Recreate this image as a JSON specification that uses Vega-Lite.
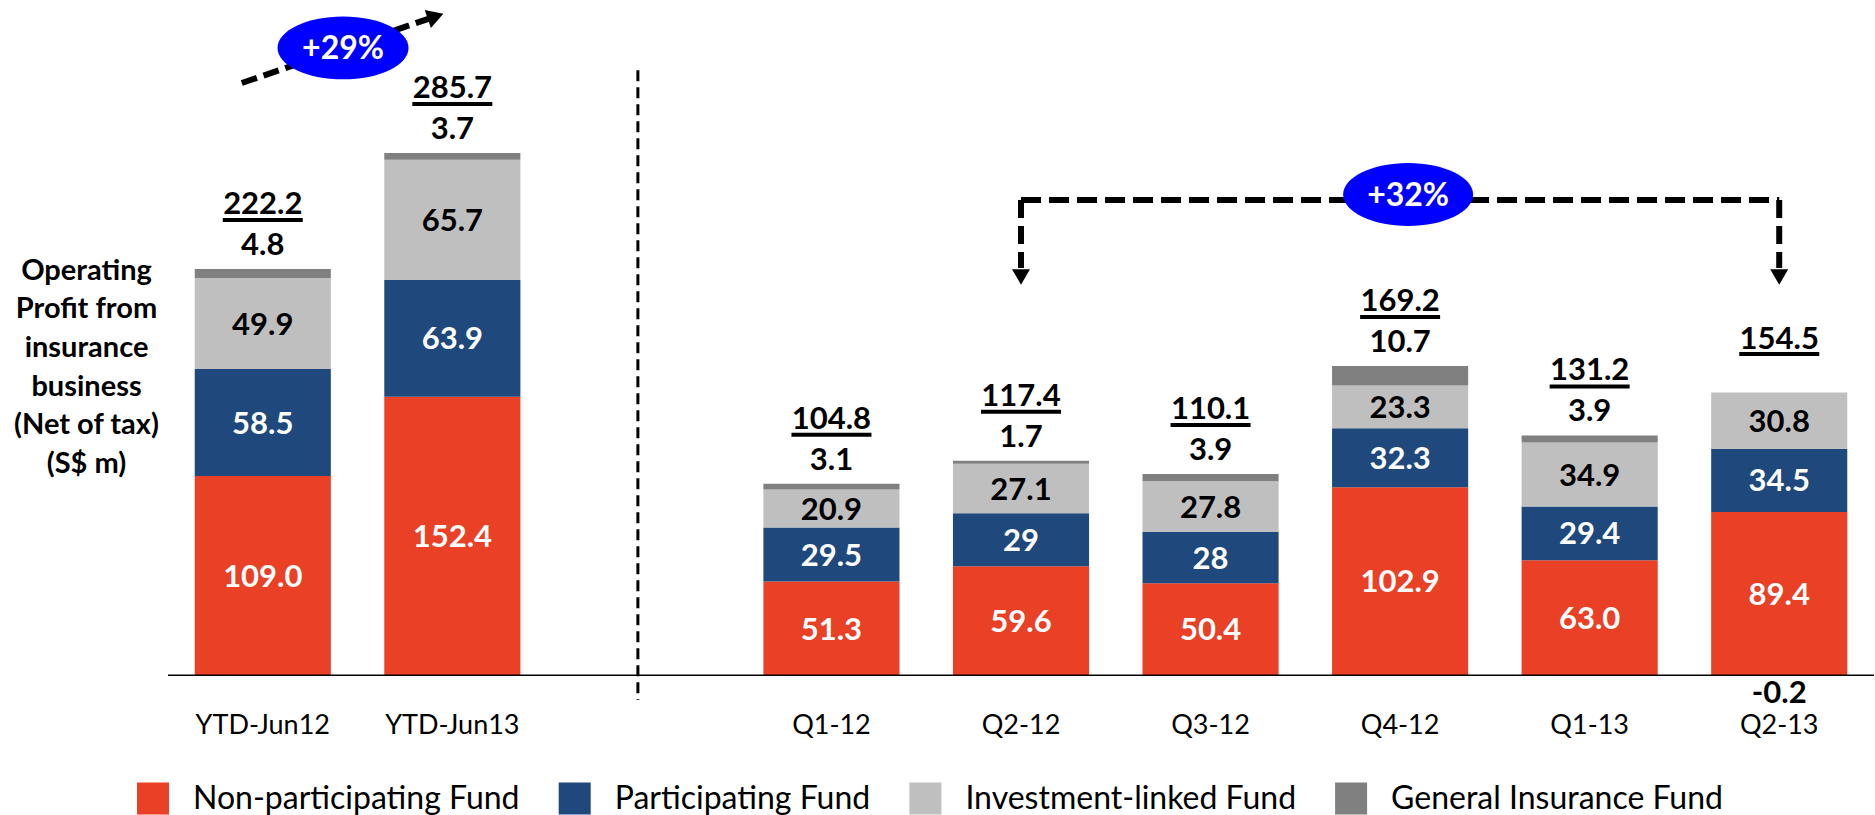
{
  "$schema": "https://vega.github.io/schema/vega-lite/v6.json",
  "width": 1706,
  "height": 700,
  "autosize": {"type": "none"},
  "padding": {"left": 168, "top": 0, "right": 1, "bottom": 115},
  "background": "white",
  "config": {"view": {"stroke": null}, "font": "Lato"},
  "datasets": {
    "funds": [
      {"fund": "Non-participating Fund", "stackOrder": 1},
      {"fund": "Participating Fund", "stackOrder": 2},
      {"fund": "Investment-linked Fund", "stackOrder": 3},
      {"fund": "General Insurance Fund", "stackOrder": 4}
    ],
    "profit": [
      {"period": "YTD-Jun12", "fund": "Non-participating Fund", "value": 109.0, "label": "109.0"},
      {"period": "YTD-Jun12", "fund": "Participating Fund", "value": 58.5, "label": "58.5"},
      {"period": "YTD-Jun12", "fund": "Investment-linked Fund", "value": 49.9, "label": "49.9"},
      {"period": "YTD-Jun12", "fund": "General Insurance Fund", "value": 4.8, "label": "4.8"},
      {"period": "YTD-Jun13", "fund": "Non-participating Fund", "value": 152.4, "label": "152.4"},
      {"period": "YTD-Jun13", "fund": "Participating Fund", "value": 63.9, "label": "63.9"},
      {"period": "YTD-Jun13", "fund": "Investment-linked Fund", "value": 65.7, "label": "65.7"},
      {"period": "YTD-Jun13", "fund": "General Insurance Fund", "value": 3.7, "label": "3.7"},
      {"period": "Q1-12", "fund": "Non-participating Fund", "value": 51.3, "label": "51.3"},
      {"period": "Q1-12", "fund": "Participating Fund", "value": 29.5, "label": "29.5"},
      {"period": "Q1-12", "fund": "Investment-linked Fund", "value": 20.9, "label": "20.9"},
      {"period": "Q1-12", "fund": "General Insurance Fund", "value": 3.1, "label": "3.1"},
      {"period": "Q2-12", "fund": "Non-participating Fund", "value": 59.6, "label": "59.6"},
      {"period": "Q2-12", "fund": "Participating Fund", "value": 29, "label": "29"},
      {"period": "Q2-12", "fund": "Investment-linked Fund", "value": 27.1, "label": "27.1"},
      {"period": "Q2-12", "fund": "General Insurance Fund", "value": 1.7, "label": "1.7"},
      {"period": "Q3-12", "fund": "Non-participating Fund", "value": 50.4, "label": "50.4"},
      {"period": "Q3-12", "fund": "Participating Fund", "value": 28, "label": "28"},
      {"period": "Q3-12", "fund": "Investment-linked Fund", "value": 27.8, "label": "27.8"},
      {"period": "Q3-12", "fund": "General Insurance Fund", "value": 3.9, "label": "3.9"},
      {"period": "Q4-12", "fund": "Non-participating Fund", "value": 102.9, "label": "102.9"},
      {"period": "Q4-12", "fund": "Participating Fund", "value": 32.3, "label": "32.3"},
      {"period": "Q4-12", "fund": "Investment-linked Fund", "value": 23.3, "label": "23.3"},
      {"period": "Q4-12", "fund": "General Insurance Fund", "value": 10.7, "label": "10.7"},
      {"period": "Q1-13", "fund": "Non-participating Fund", "value": 63.0, "label": "63.0"},
      {"period": "Q1-13", "fund": "Participating Fund", "value": 29.4, "label": "29.4"},
      {"period": "Q1-13", "fund": "Investment-linked Fund", "value": 34.9, "label": "34.9"},
      {"period": "Q1-13", "fund": "General Insurance Fund", "value": 3.9, "label": "3.9"},
      {"period": "Q2-13", "fund": "Non-participating Fund", "value": 89.4, "label": "89.4"},
      {"period": "Q2-13", "fund": "Participating Fund", "value": 34.5, "label": "34.5"},
      {"period": "Q2-13", "fund": "Investment-linked Fund", "value": 30.8, "label": "30.8"},
      {"period": "Q2-13", "fund": "General Insurance Fund", "value": -0.2, "label": "-0.2"}
    ]
  },
  "data": {"name": "profit"},
  "transform": [
    {"lookup": "fund", "from": {"data": {"name": "funds"}, "key": "fund", "fields": ["stackOrder"]}}
  ],
  "layer": [
    {
      "mark": {"type": "bar"},
      "encoding": {
        "x": {
          "field": "period", "type": "nominal", "sort": null,
          "scale": {"domain": ["YTD-Jun12", "YTD-Jun13", " ", "Q1-12", "Q2-12", "Q3-12", "Q4-12", "Q1-13", "Q2-13"], "paddingInner": 0.282, "paddingOuter": 0.141},
          "axis": {"title": null, "domain": false, "ticks": false, "tickSize": 0, "grid": false, "labelPadding": 12, "labelAngle": 0, "labelFont": "Lato", "labelFontSize": 27, "labelColor": "#000000"}
        },
        "y": {
          "field": "value", "type": "quantitative", "stack": "zero",
          "scale": {"domain": [-13.51, 369.42], "nice": false, "zero": false},
          "axis": {
            "labels": false, "ticks": false, "domain": false, "grid": false,
            "title": ["Operating", "Profit from", "insurance", "business", "(Net of tax)", "(S$ m)"],
            "titleAngle": 0, "titleAlign": "center", "titleX": -82, "titleY": 279, "titleBaseline": "alphabetic",
            "titleLineHeight": 38.7, "titleFont": "Lato", "titleFontWeight": "bold", "titleFontSize": 29, "titleColor": "#000000"
          }
        },
        "color": {
          "field": "fund", "type": "nominal",
          "scale": {"domain": ["Non-participating Fund", "Participating Fund", "Investment-linked Fund", "General Insurance Fund"], "range": ["#E94026", "#1F497D", "#BFBFBF", "#808080"]},
          "legend": {
            "orient": "none", "legendX": -31, "legendY": 782.5, "direction": "horizontal", "title": null,
            "symbolType": "square", "symbolSize": 1024, "symbolStrokeWidth": 0, "symbolOpacity": 1,
            "labelFont": "Lato", "labelFontSize": 32, "labelColor": "#000000", "labelOffset": 24,
            "columnPadding": 38.7, "labelLimit": 600, "padding": 0
          }
        },
        "order": {"field": "stackOrder", "type": "quantitative"}
      }
    },
    {
      "mark": {"type": "text", "font": "Lato", "fontWeight": "bold", "fontSize": 31, "align": "center", "baseline": "alphabetic", "dy": 11.1},
      "encoding": {
        "x": {"field": "period", "type": "nominal", "sort": null},
        "y": {"field": "value", "type": "quantitative", "stack": "zero", "bandPosition": 0.5},
        "detail": {"field": "fund", "type": "nominal"},
        "order": {"field": "stackOrder", "type": "quantitative"},
        "text": {"field": "label", "type": "nominal"},
        "color": {"condition": {"test": "datum.fund === 'Investment-linked Fund'", "value": "#000000"}, "value": "#FFFFFF"},
        "opacity": {"condition": {"test": "datum.fund === 'General Insurance Fund'", "value": 0}, "value": 1}
      }
    },
    {
      "transform": [
        {"filter": "datum.value > 0"},
        {"joinaggregate": [{"op": "sum", "field": "value", "as": "top"}], "groupby": ["period"]},
        {"filter": "datum.fund === 'General Insurance Fund'"}
      ],
      "mark": {"type": "text", "font": "Lato", "fontWeight": "bold", "fontSize": 31, "align": "center", "baseline": "alphabetic", "dy": -14, "color": "#000000"},
      "encoding": {
        "x": {"field": "period", "type": "nominal", "sort": null},
        "y": {"field": "top", "type": "quantitative"},
        "text": {"field": "label", "type": "nominal"}
      }
    },
    {
      "transform": [
        {"filter": "datum.fund === 'General Insurance Fund' && datum.value < 0"}
      ],
      "mark": {"type": "text", "font": "Lato", "fontWeight": "bold", "fontSize": 31, "align": "center", "baseline": "alphabetic", "dy": 27, "color": "#000000"},
      "encoding": {
        "x": {"field": "period", "type": "nominal", "sort": null},
        "y": {"field": "value", "type": "quantitative"},
        "text": {"field": "label", "type": "nominal"}
      }
    },
    {
      "transform": [
        {"joinaggregate": [{"op": "sum", "field": "value", "as": "total"}], "groupby": ["period"]},
        {"filter": "datum.value > 0"},
        {"aggregate": [{"op": "sum", "field": "value", "as": "top"}, {"op": "max", "field": "total", "as": "total"}], "groupby": ["period"]},
        {"filter": "datum.top - datum.total < 0.05"}
      ],
      "layer": [
        {
          "mark": {"type": "text", "font": "Lato", "fontWeight": "bold", "fontSize": 31, "align": "center", "baseline": "alphabetic", "dy": -55, "color": "#000000"},
          "encoding": {
            "x": {"field": "period", "type": "nominal", "sort": null},
            "y": {"field": "top", "type": "quantitative"},
            "text": {"field": "total", "type": "quantitative", "format": ".1f"}
          }
        },
        {
          "mark": {"type": "tick", "orient": "horizontal", "size": 80, "thickness": 4, "color": "#000000", "opacity": 1, "yOffset": -49},
          "encoding": {
            "x": {"field": "period", "type": "nominal", "sort": null},
            "y": {"field": "top", "type": "quantitative"}
          }
        }
      ]
    },
    {
      "transform": [
        {"joinaggregate": [{"op": "sum", "field": "value", "as": "total"}], "groupby": ["period"]},
        {"filter": "datum.value > 0"},
        {"aggregate": [{"op": "sum", "field": "value", "as": "top"}, {"op": "max", "field": "total", "as": "total"}], "groupby": ["period"]},
        {"filter": "datum.top - datum.total >= 0.05"}
      ],
      "layer": [
        {
          "mark": {"type": "text", "font": "Lato", "fontWeight": "bold", "fontSize": 31, "align": "center", "baseline": "alphabetic", "dy": -44, "color": "#000000"},
          "encoding": {
            "x": {"field": "period", "type": "nominal", "sort": null},
            "y": {"field": "top", "type": "quantitative"},
            "text": {"field": "total", "type": "quantitative", "format": ".1f"}
          }
        },
        {
          "mark": {"type": "tick", "orient": "horizontal", "size": 80, "thickness": 4, "color": "#000000", "opacity": 1, "yOffset": -38.5},
          "encoding": {
            "x": {"field": "period", "type": "nominal", "sort": null},
            "y": {"field": "top", "type": "quantitative"}
          }
        }
      ]
    },
    {
      "data": {"values": [{}]},
      "mark": {"type": "rule", "color": "#000000", "strokeWidth": 1.5},
      "encoding": {"y": {"datum": 0}}
    },
    {
      "data": {"values": [{}]},
      "mark": {"type": "rule", "color": "#000000", "strokeWidth": 3, "strokeDash": [11, 6], "xOffset": -4},
      "encoding": {"x": {"datum": " "}, "y": {"datum": 331}, "y2": {"datum": -13.5}}
    },
    {
      "data": {"values": [{}]},
      "mark": {"type": "rule", "color": "#000000", "strokeWidth": 6, "strokeDash": [16, 7], "xOffset": -21, "x2Offset": -24},
      "encoding": {"x": {"datum": "YTD-Jun12"}, "x2": {"datum": "YTD-Jun13"}, "y": {"datum": 324}, "y2": {"datum": 359.1}}
    },
    {
      "data": {"values": [{}]},
      "mark": {"type": "point", "shape": "triangle-right", "angle": -19, "size": 360, "filled": true, "color": "#000000", "opacity": 1, "strokeWidth": 0, "xOffset": -16.75},
      "encoding": {"x": {"datum": "YTD-Jun13"}, "y": {"datum": 360.5}}
    },
    {
      "data": {"values": [{}]},
      "mark": {"type": "point", "shape": "M -1 0 C -1 -0.265 -0.552 -0.48 0 -0.48 C 0.552 -0.48 1 -0.265 1 0 C 1 0.265 0.552 0.48 0 0.48 C -0.552 0.48 -1 0.265 -1 0 Z", "size": 17161, "filled": true, "color": "#0000FF", "opacity": 1, "strokeWidth": 0, "xOffset": 80.25},
      "encoding": {"x": {"datum": "YTD-Jun12"}, "y": {"datum": 343.2}}
    },
    {
      "data": {"values": [{}]},
      "mark": {"type": "text", "text": "+29%", "font": "Lato", "fontWeight": "bold", "fontSize": 32, "color": "#FFFFFF", "align": "center", "baseline": "alphabetic", "dy": 11.5, "xOffset": 80.25},
      "encoding": {"x": {"datum": "YTD-Jun12"}, "y": {"datum": 343.2}}
    },
    {
      "data": {"values": [{}]},
      "mark": {"type": "rule", "color": "#000000", "strokeWidth": 6, "strokeDash": [20, 8]},
      "encoding": {"x": {"datum": "Q2-12"}, "x2": {"datum": "Q2-13"}, "y": {"datum": 260}}
    },
    {
      "data": {"values": [{"p": "Q2-12"}, {"p": "Q2-13"}]},
      "encoding": {"x": {"field": "p", "type": "nominal", "sort": null}},
      "layer": [
        {
          "mark": {"type": "rule", "color": "#000000", "strokeWidth": 6, "strokeDash": [18, 8]},
          "encoding": {"y": {"datum": 260}, "y2": {"datum": 222.8}}
        },
        {
          "mark": {"type": "point", "shape": "triangle-down", "size": 324, "filled": true, "color": "#000000", "opacity": 1, "strokeWidth": 0},
          "encoding": {"y": {"datum": 217.9}}
        }
      ]
    },
    {
      "data": {"values": [{}]},
      "mark": {"type": "point", "shape": "M -1 0 C -1 -0.265 -0.552 -0.485 0 -0.485 C 0.552 -0.485 1 -0.265 1 0 C 1 0.265 0.552 0.485 0 0.485 C -0.552 0.485 -1 0.265 -1 0 Z", "size": 16900, "filled": true, "color": "#0000FF", "opacity": 1, "strokeWidth": 0, "xOffset": 8},
      "encoding": {"x": {"datum": "Q4-12"}, "y": {"datum": 263.0}}
    },
    {
      "data": {"values": [{}]},
      "mark": {"type": "text", "text": "+32%", "font": "Lato", "fontWeight": "bold", "fontSize": 32, "color": "#FFFFFF", "align": "center", "baseline": "alphabetic", "dy": 11.5, "xOffset": 8},
      "encoding": {"x": {"datum": "Q4-12"}, "y": {"datum": 263.0}}
    }
  ]
}
